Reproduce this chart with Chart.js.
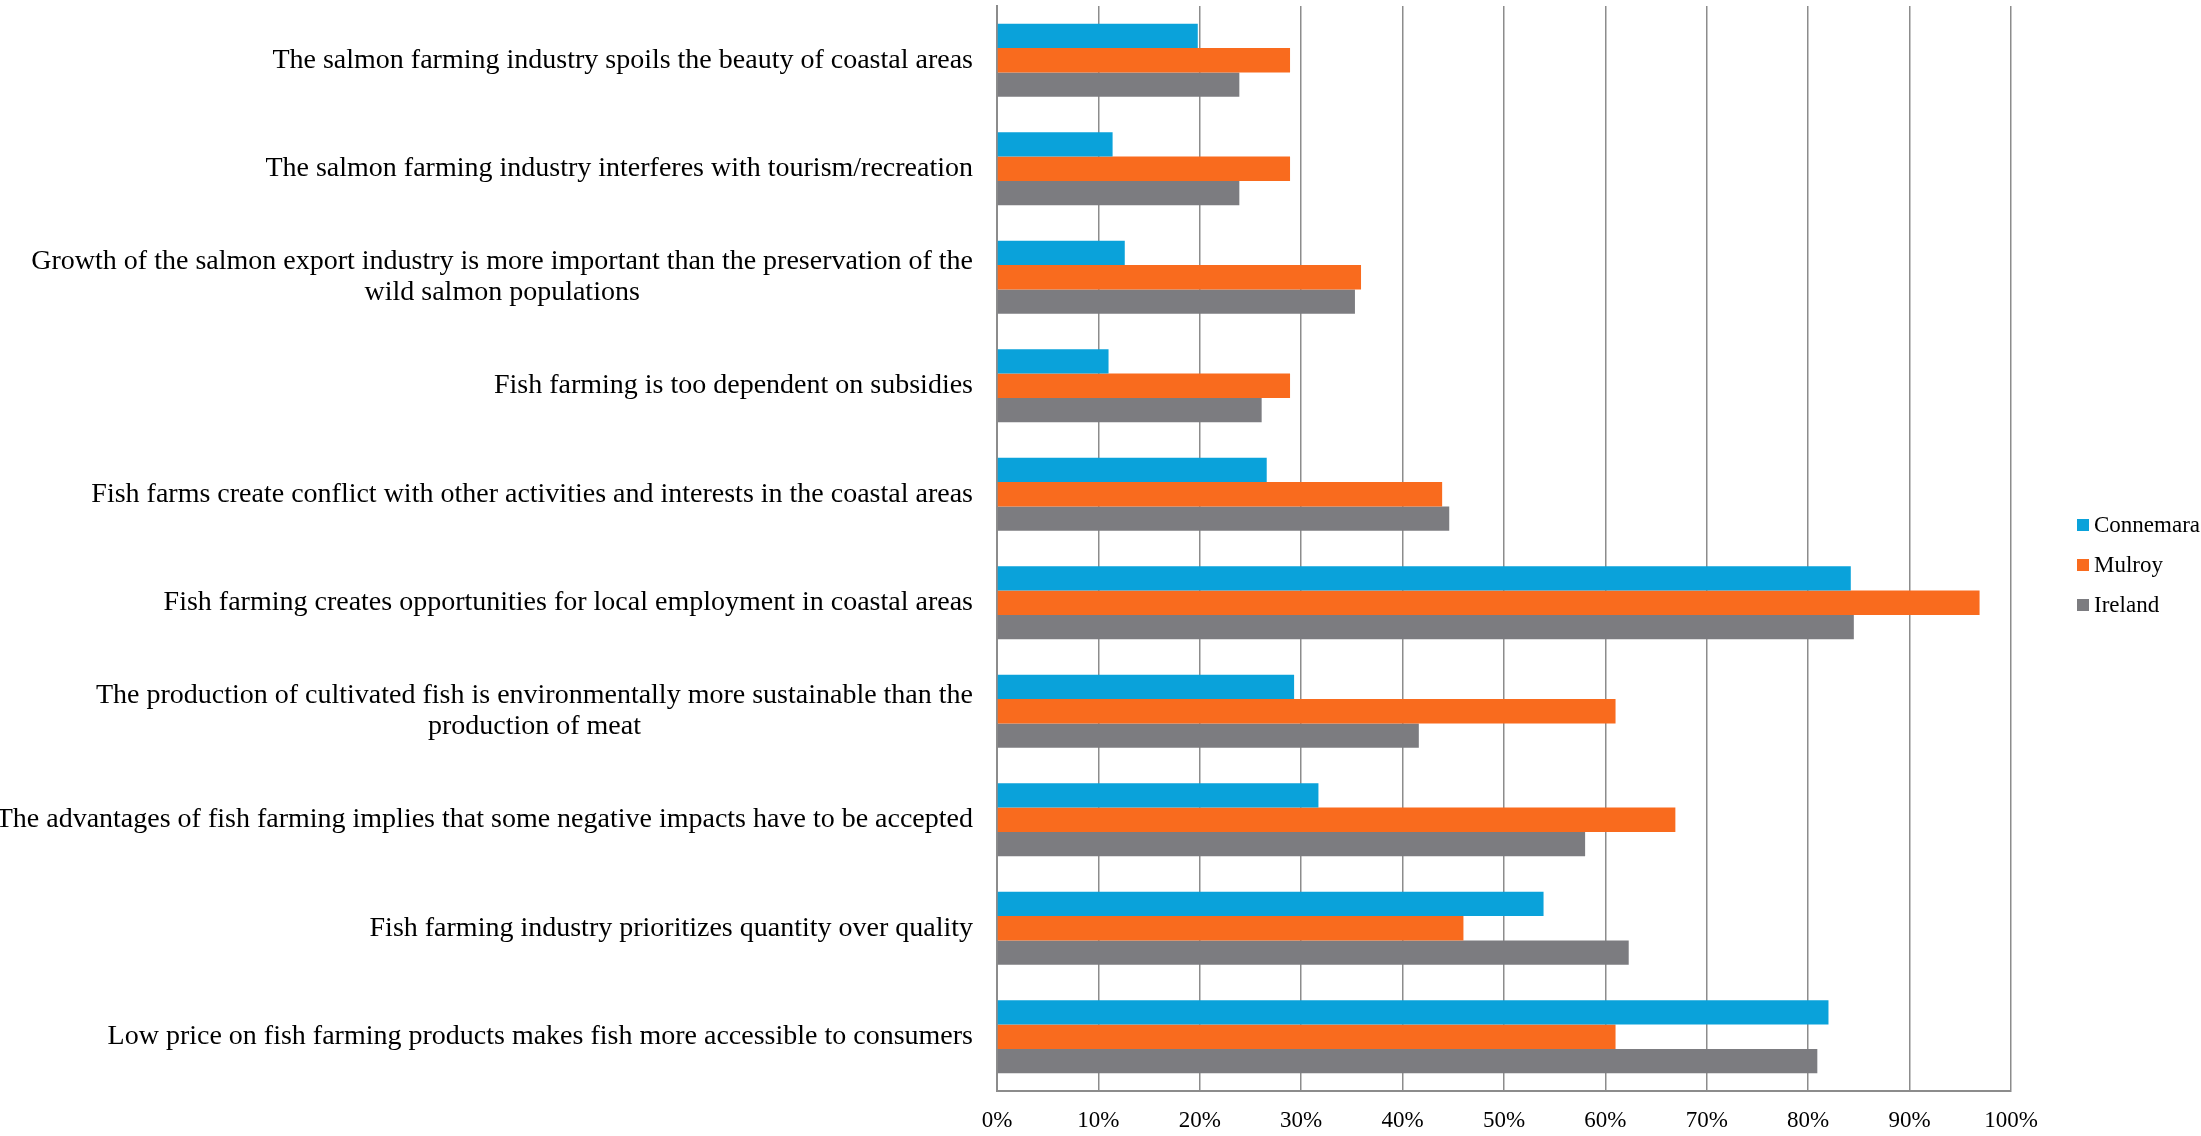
<!DOCTYPE html>
<html>
<head>
<meta charset="utf-8">
<script src="https://cdn.jsdelivr.net/npm/chart.js@4"></script>
<style>
  body { margin: 0; background: #fff; }
  #wrap { width: 2201px; height: 1136px; }
</style>
</head>
<body>
<div id="wrap"><canvas id="myChart"></canvas></div>
<script>
// categories (multi-line ones as arrays of lines)
var categories = [
  'The salmon farming industry spoils the beauty of coastal areas',
  'The salmon farming industry interferes with tourism/recreation',
  ['Growth of the salmon export industry is more important than the preservation of the', 'wild salmon populations'],
  'Fish farming is too dependent on subsidies',
  'Fish farms create conflict with other activities and interests in the coastal areas',
  'Fish farming creates opportunities for local employment in coastal areas',
  ['The production of cultivated fish is environmentally more sustainable than the', 'production of meat'],
  'The advantages of fish farming implies that some negative impacts have to be accepted',
  'Fish farming industry prioritizes quantity over quality',
  'Low price on fish farming products makes fish more accessible to consumers'
];

var connemara = [19.8, 11.4, 12.6, 11.0, 26.6, 84.2, 29.3, 31.7, 53.9, 82.0];
var mulroy    = [28.9, 28.9, 35.9, 28.9, 43.9, 96.9, 61.0, 66.9, 46.0, 61.0];
var ireland   = [23.9, 23.9, 35.3, 26.1, 44.6, 84.5, 41.6, 58.0, 62.3, 80.9];

var xTicks = [0, 10, 20, 30, 40, 50, 60, 70, 80, 90, 100];

var serif = '"Liberation Serif", "Times New Roman", serif';
var axisGray = '#8c8c8c';

// category labels: block right-aligned, lines centred inside the block
var labelPlugin = {
  id: 'catLabels',
  afterDraw: function(chart) {
    var ctx = chart.ctx;
    var y = chart.scales.y;
    var right = chart.chartArea.left - 24;
    ctx.save();
    ctx.font = '28px ' + serif;
    ctx.fillStyle = '#000';
    ctx.textAlign = 'center';
    ctx.textBaseline = 'middle';
    categories.forEach(function(label, i) {
      var lines = Array.isArray(label) ? label : [label];
      var w = 0;
      lines.forEach(function(l) { w = Math.max(w, ctx.measureText(l).width); });
      var cx = right - w / 2;
      var lh = 31;
      var cy = y.getPixelForValue(i) - (lines.length - 1) * lh / 2;
      lines.forEach(function(l, j) { ctx.fillText(l, cx, cy + j * lh); });
    });
    ctx.restore();
  }
};

// legend on the right, drawn like the original
var legendPlugin = {
  id: 'sideLegend',
  afterDraw: function(chart) {
    var ctx = chart.ctx;
    var x = chart.chartArea.right + 66;
    var mid = chart.height / 2 - 3;
    var n = chart.data.datasets.length;
    ctx.save();
    ctx.font = '23px ' + serif;
    ctx.textBaseline = 'middle';
    ctx.textAlign = 'left';
    chart.data.datasets.forEach(function(ds, i) {
      var cy = mid + (i - (n - 1) / 2) * 40;
      ctx.fillStyle = ds.backgroundColor;
      ctx.fillRect(x, cy - 6, 12, 12);
      ctx.fillStyle = '#000';
      ctx.fillText(ds.label, x + 17, cy + 1);
    });
    ctx.restore();
  }
};

var ctx = document.getElementById('myChart').getContext('2d');
var myChart = new Chart(ctx, {
  type: 'bar',
  data: {
    labels: categories,
    datasets: [
      { label: 'Connemara', data: connemara, backgroundColor: '#0aa2da' },
      { label: 'Mulroy', data: mulroy, backgroundColor: '#f96b1e' },
      { label: 'Ireland', data: ireland, backgroundColor: '#7c7c80' }
    ]
  },
  options: {
    indexAxis: 'y',
    responsive: true,
    maintainAspectRatio: false,
    animation: false,
    datasets: {
      bar: { categoryPercentage: 0.673, barPercentage: 1.0 }
    },
    layout: { padding: { top: 6, right: 190, left: 0, bottom: 0 } },
    plugins: {
      legend: { display: false },
      tooltip: { enabled: false }
    },
    scales: {
      x: {
        min: 0,
        max: 100,
        afterBuildTicks: function(scale) {
          scale.ticks = xTicks.map(function(v) { return { value: v }; });
        },
        afterFit: function(scale) { scale.height = 45; },
        grid: { color: axisGray, lineWidth: 1.5, drawTicks: false },
        border: { color: axisGray, width: 2 },
        ticks: {
          padding: 16,
          color: '#000',
          font: { family: serif, size: 23 },
          callback: function(v) { return v + '%'; }
        }
      },
      y: {
        afterFit: function(scale) { scale.width = 997; },
        grid: { display: false, drawTicks: false },
        border: { color: axisGray, width: 2 },
        ticks: { display: false }
      }
    }
  },
  plugins: [labelPlugin, legendPlugin]
});
</script>
</body>
</html>
